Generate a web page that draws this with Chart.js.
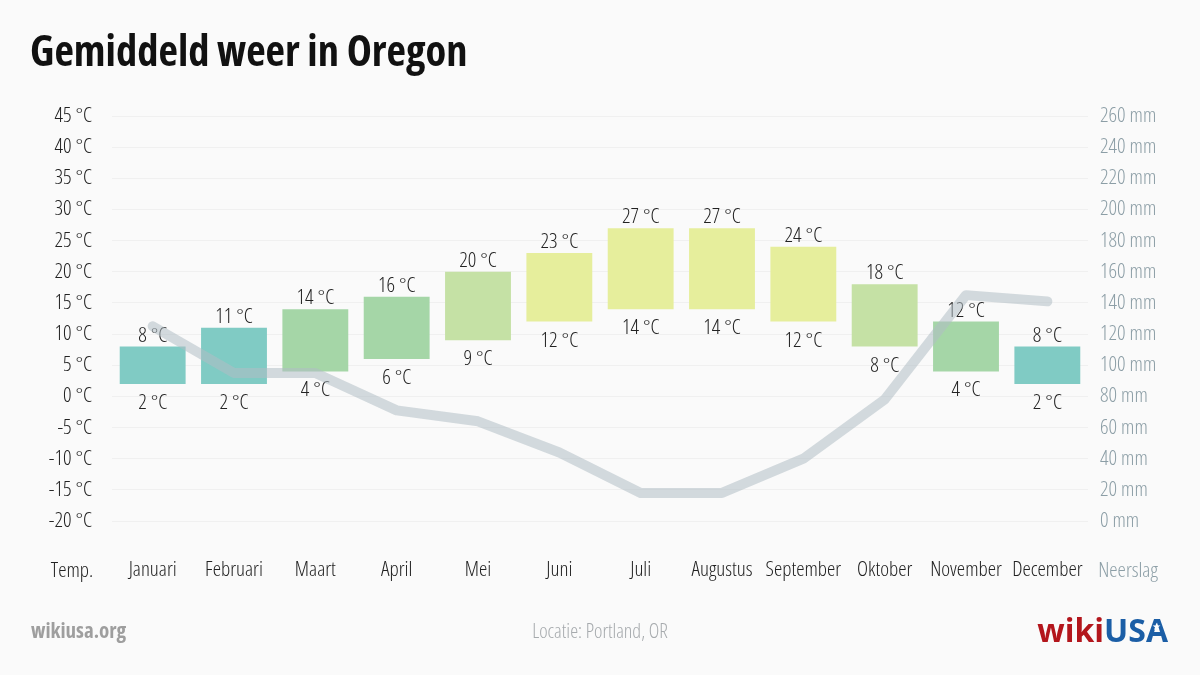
<!DOCTYPE html>
<html><head><meta charset="utf-8">
<script src="https://cdn.jsdelivr.net/npm/chart.js@4"></script>
<style>
html,body{margin:0;padding:0;background:#fafafa;}
#wrap{position:relative;width:1200px;height:675px;overflow:hidden;}
canvas{position:absolute;left:0;top:0;}
.t{position:absolute;font-family:'Open Sans',sans-serif;font-stretch:75%;white-space:nowrap;line-height:1;}
#title{left:30px;top:29px;font-size:42.5px;font-weight:700;color:#111;}
#site{left:31px;top:620px;font-size:21px;font-weight:700;color:#9e9e9e;}
#loc{left:0;width:1200px;text-align:center;top:621px;font-size:20px;color:#a6aaad;font-weight:300}
#logo{right:32px;top:614px;font-size:32px;font-weight:700;font-stretch:100%;}
#star{position:absolute;left:1152px;top:622px;font-size:10px;color:#fff;line-height:1;font-family:'DejaVu Sans',sans-serif;}
</style></head>
<body>
<div id="wrap">
<canvas id="c" width="1200" height="675"></canvas>
<div class="t" id="title">Gemiddeld weer in Oregon</div>
<div class="t" id="site">wikiusa.org</div>
<div class="t" id="loc">Locatie: Portland, OR</div>
<div class="t" id="logo"><span style="color:#b3161c">wiki</span><span style="color:#1b5ea6">USA</span></div>
<div id="star">★</div>
</div>
<script>
const months = ['Januari','Februari','Maart','April','Mei','Juni','Juli','Augustus','September','Oktober','November','December'];
const tempMin = [2,2,4,6,9,12,14,14,12,8,4,2];
const tempMax = [8,11,14,16,20,23,27,27,24,18,12,8];
const precip = [125,95,95,71,64,44,18,18,40,78,145,141];
const barColors = ['#80cbc4','#80cbc4','#a5d6a7','#a5d6a7','#c5e1a5','#e6ee9c','#e6ee9c','#e6ee9c','#e6ee9c','#c5e1a5','#a5d6a7','#80cbc4'];
const leftAxisLabel = 'Temp.';
const rightAxisLabel = 'Neerslag';
const tempUnit = ' °C';
const precipUnit = ' mm';

const FAM = "'Open Sans', sans-serif";
const W = 'condensed 300';
const FS = 21;

const barLabels = {
  id: 'barLabels',
  afterDatasetDraw(chart, args) {
    if (args.index !== 0) return;
    const ctx = chart.ctx;
    const meta = chart.getDatasetMeta(0);
    ctx.save();
    ctx.font = W + ' ' + FS + 'px ' + FAM;
    ctx.fillStyle = '#222';
    ctx.textAlign = 'center';
    ctx.textBaseline = 'alphabetic';
    meta.data.forEach((el, i) => {
      const p = el.getProps(['x','y','base'], true);
      const top = Math.min(p.y, p.base), bot = Math.max(p.y, p.base);
      ctx.fillText(tempMax[i] + tempUnit, p.x, top - 5);
      ctx.fillText(tempMin[i] + tempUnit, p.x, bot + 25);
    });
    ctx.restore();
  },
  afterDraw(chart) {
    const ctx = chart.ctx;
    ctx.save();
    ctx.font = W + ' ' + FS + 'px ' + FAM;
    ctx.textAlign = 'center';
    ctx.textBaseline = 'alphabetic';
    ctx.fillStyle = '#222';
    ctx.fillText(leftAxisLabel, 72, 577);
    ctx.fillStyle = '#8c9ea6';
    ctx.fillText(rightAxisLabel, 1128, 577);
    ctx.restore();
  }
};

new Chart(document.getElementById('c'), {
  data: {
    labels: months,
    datasets: [
      {
        type: 'bar',
        data: tempMin.map((v, i) => [v, tempMax[i]]),
        backgroundColor: barColors,
        borderWidth: 0,
        barPercentage: 0.81,
        categoryPercentage: 1,
        yAxisID: 'y',
        order: 2
      },
      {
        type: 'line',
        data: precip,
        borderColor: 'rgba(176,190,197,0.55)',
        borderWidth: 10,
        borderCapStyle: 'round',
        borderJoinStyle: 'round',
        pointRadius: 0,
        tension: 0,
        yAxisID: 'y1',
        order: 1
      }
    ]
  },
  options: {
    responsive: false,
    animation: false,
    events: [],
    layout: { padding: { top: 116, left: 0, right: 0, bottom: 0 } },
    plugins: { legend: { display: false }, tooltip: { enabled: false } },
    scales: {
      x: {
        grid: { display: false, drawTicks: false },
        border: { display: false },
        ticks: { color: '#222', font: { family: FAM, size: FS, weight: W }, padding: 36, maxRotation: 0, autoSkip: false },
        afterFit(s) { s.height = 154; }
      },
      y: {
        position: 'left',
        min: -20, max: 45,
        grid: { color: '#f0f0f0', drawTicks: false, lineWidth: 1 },
        border: { display: false },
        ticks: { stepSize: 5, color: '#222', font: { family: FAM, size: FS, weight: W }, padding: 20,
          callback: v => v + tempUnit },
        afterFit(s) { s.width = 112; }
      },
      y1: {
        position: 'right',
        min: 0, max: 260,
        grid: { display: false, drawTicks: false },
        border: { display: false },
        ticks: { stepSize: 20, color: '#8c9ea6', font: { family: FAM, size: FS, weight: W }, padding: 12,
          callback: v => v + precipUnit },
        afterFit(s) { s.width = 112; }
      }
    }
  },
  plugins: [barLabels]
});
</script>
</body></html>
